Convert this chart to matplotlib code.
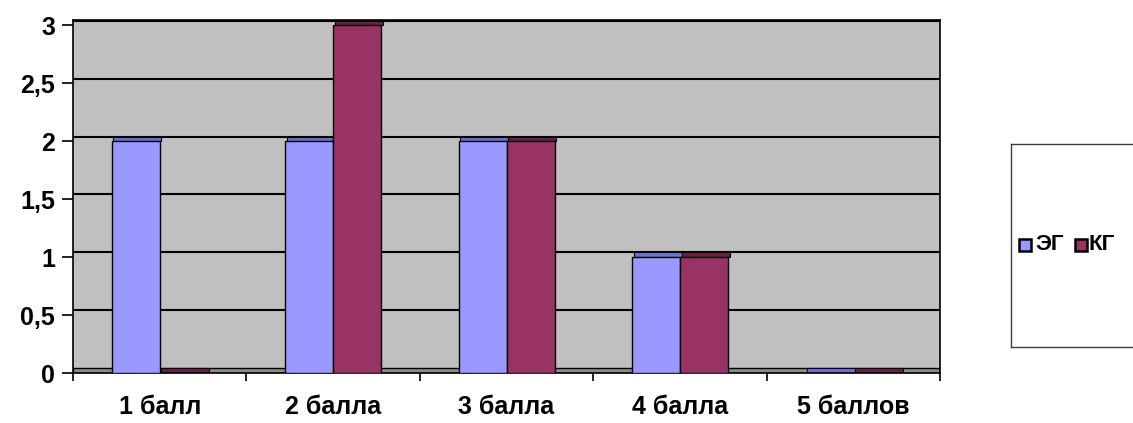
import matplotlib
matplotlib.use("Agg")
import matplotlib.pyplot as plt
from matplotlib.patches import Rectangle
import numpy as np

categories = ["1 балл", "2 балла", "3 балла", "4 балла", "5 баллов"]
series_names = ["ЭГ", "КГ"]
eg_values = [2, 2, 2, 1, 0]
kg_values = [0, 3, 2, 1, 0]
y_ticks = [0, 0.5, 1, 1.5, 2, 2.5, 3]
y_tick_labels = ["0", "0,5", "1", "1,5", "2", "2,5", "3"]

plt.rcParams['font.family'] = ['Liberation Sans', 'DejaVu Sans']

fig = plt.figure(figsize=(11.33, 4.23), dpi=100)
ax = fig.add_axes([73/1133, (423-373)/423, (940-73)/1133, 353/423])

depth = 0.04
ax.set_facecolor("#C0C0C0")
ax.set_xlim(0, len(categories))
ax.set_ylim(0, 3 + depth + 0.005)

# back wall gridlines (offset for pseudo-3D)
for t in y_ticks[1:]:
    ax.axhline(t + depth, color="black", lw=1.5, zorder=1)
# floor
ax.add_patch(Rectangle((0, 0), len(categories), depth, facecolor="#8C8C8C",
                       edgecolor="black", lw=1.0, zorder=1))

x = np.arange(len(categories)) + 0.5
w = 48 / 173.4
colors = ["#9999FF", "#993366"]
cap_colors = ["#6F6FD8", "#6B1F45"]
for i, (vals, c, cc) in enumerate(zip([eg_values, kg_values], colors, cap_colors)):
    xs = x + (i - 0.5) * w
    ax.bar(xs, vals, width=w, color=c, edgecolor="black", lw=1.0, zorder=3)
    ax.bar(xs + 0.01, [depth] * len(vals), bottom=vals, width=w, color=cc,
           edgecolor="black", lw=0.8, zorder=2)

for s in ax.spines.values():
    s.set_color("black")
    s.set_linewidth(1.2)

ax.set_yticks(y_ticks)
ax.set_yticklabels(y_tick_labels, fontsize=18, fontweight="bold")
ax.tick_params(axis="y", length=8, width=1.2, pad=5)
ax.set_xticks(np.arange(len(categories) + 1))
ax.set_xticklabels([])
ax.set_xticks(x, minor=True)
ax.set_xticklabels(categories, minor=True, fontsize=18, fontweight="bold")
ax.tick_params(axis="x", which="major", length=6, width=1.2, direction="out")
ax.tick_params(axis="x", which="minor", length=0, pad=16)

# legend box
lax = fig.add_axes([1011/1133, (423-347)/423, 0.2, (347-144)/423])
lax.set_xlim(1011, 1011 + 0.2*1133)
lax.set_ylim(347, 144)
lax.set_xticks([]); lax.set_yticks([])
for s in lax.spines.values():
    s.set_color("#404040"); s.set_linewidth(1.0)
yl = 245
for xm, xt, c, name in [(1019, 1035, colors[0], series_names[0]),
                        (1075, 1088, colors[1], series_names[1])]:
    lax.add_patch(Rectangle((xm, yl - 6), 12, 12, facecolor=c, edgecolor="black", lw=1.8))
    lax.text(xt, yl, name, fontsize=16, fontweight="bold", va="center", ha="left")

fig.savefig("out.png", dpi=100)
